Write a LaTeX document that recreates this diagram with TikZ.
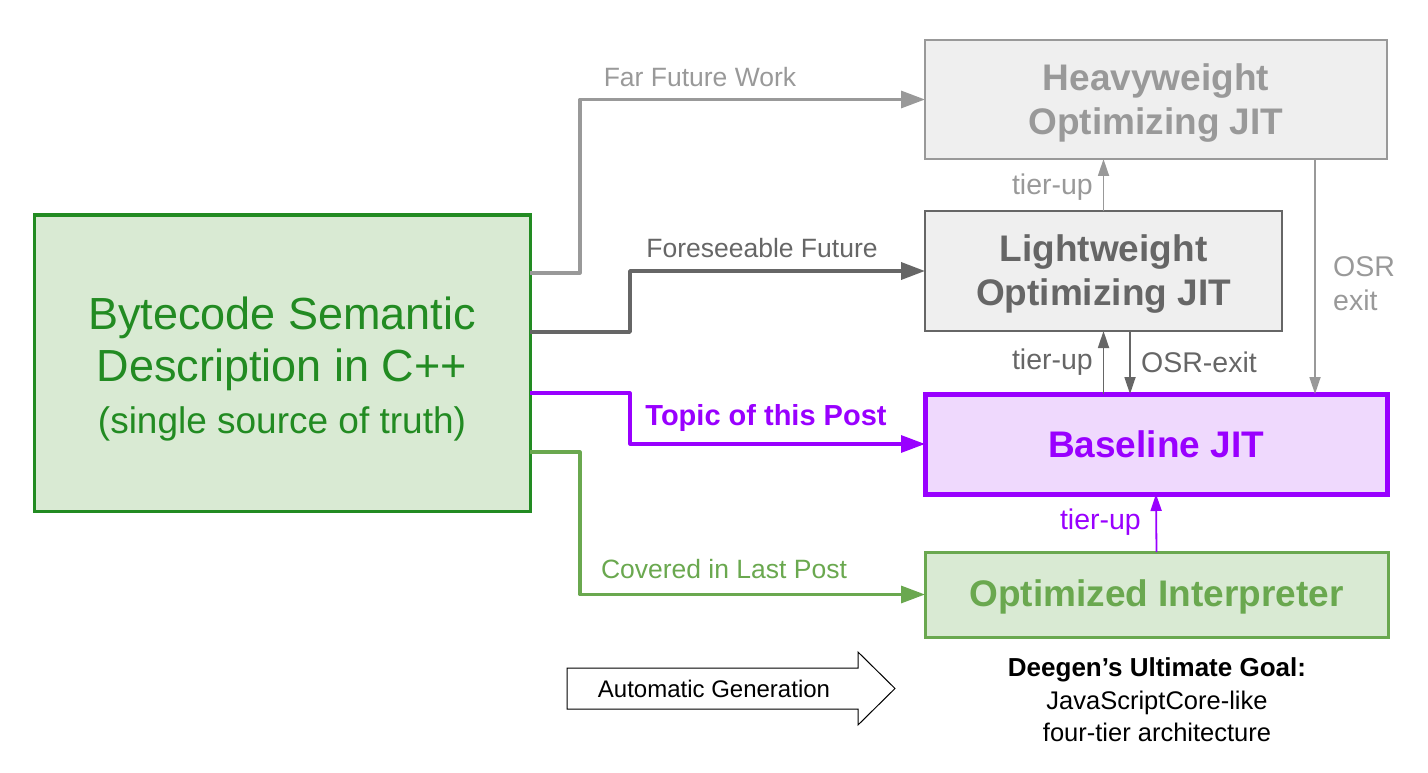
\documentclass[tikz,border=0pt]{standalone}
\usepackage{fontspec}
\setmainfont{Liberation Sans}
\usetikzlibrary{arrows.meta}
\definecolor{srcgreen}{RGB}{34,139,34}
\definecolor{srcfill}{RGB}{217,234,211}
\definecolor{interpgreen}{RGB}{106,168,79}
\definecolor{greyA}{RGB}{153,153,153}
\definecolor{greyB}{RGB}{102,102,102}
\definecolor{greyfill}{RGB}{239,239,239}
\definecolor{violet}{RGB}{153,0,255}
\definecolor{violetfill}{RGB}{239,217,253}
\begin{document}
\begin{tikzpicture}[x=1pt,y=-1pt,
  tier/.style={draw, rectangle, anchor=north west, inner sep=0pt, outer sep=0pt},
  tiertext/.style={inner sep=0pt, align=center, font=\fontsize{37}{44}\selectfont\bfseries},
  feed/.style={line width=3.2pt, line join=round, -{Triangle[length=24pt,width=17pt]}},
  hop/.style={line width=1.8pt, -{Triangle[length=17pt,width=11pt]}},
  edgelbl/.style={inner sep=0pt, font=\fontsize{26.5}{30}\selectfont},
  hoplbl/.style={inner sep=0pt, font=\fontsize{28.5}{34}\selectfont},
]
\useasboundingbox (0,0) rectangle (1428,773);

% tiers
\node[tier, fill=srcfill, draw=srcgreen, line width=3pt, minimum width=496pt, minimum height=296pt] (src) at (34,215) {};
\node[tiertext, text=srcgreen, font=\fontsize{45}{52}\selectfont] (srctext) at ([yshift=-6pt]src.center)
  {Bytecode Semantic\\Description in C++\\\fontsize{37}{48}\selectfont (single source of truth)};

\node[tier, fill=greyfill, draw=greyA, line width=2pt, minimum width=462pt, minimum height=119pt] (hvy) at (925,40) {};
\node[tiertext, text=greyA] (hvytext) at ([yshift=-4pt]hvy.center) {Heavyweight\\Optimizing JIT};

\node[tier, fill=greyfill, draw=greyB, line width=2pt, minimum width=357pt, minimum height=120pt] (lw) at (925,211) {};
\node[tiertext, text=greyB] (lwtext) at ([yshift=-3pt]lw.center) {Lightweight\\Optimizing JIT};

\node[tier, fill=violetfill, draw=violet, line width=5pt, minimum width=462pt, minimum height=100pt] (bl) at (925,394) {};
\node[tiertext, text=violet] (bltext) at (bl.center) {Baseline JIT};

\node[tier, fill=srcfill, draw=interpgreen, line width=3pt, minimum width=463pt, minimum height=85pt] (oi) at (925,552) {};
\node[tiertext, text=interpgreen] (oitext) at ([yshift=-2pt]oi.center) {Optimized Interpreter};

% feeds from the semantic description
\coordinate (s1) at (src.north east |- 0,273);
\coordinate (s2) at (src.north east |- 0,332);
\coordinate (s3) at (src.north east |- 0,393);
\coordinate (s4) at (src.north east |- 0,452);
\draw[feed, draw=greyA] (s1) -- ++(50,0) |- (hvy.west);
\draw[feed, draw=greyB, line width=3.6pt] (s2) -- ++(100,0) |- (lw.west);
\draw[feed, draw=violet] (s3) -- ++(100,0) |- (bl.west);
\draw[feed, draw=interpgreen] (s4) -- ++(50,0) |- (oi.west);

\node[edgelbl, text=greyA] (lblfar) at (700,77) {Far Future Work};
\node[edgelbl, text=greyB] (lblfore) at (762,248) {Foreseeable Future};
\node[inner sep=0pt, font=\fontsize{29}{32}\selectfont\bfseries, text=violet] (lbltopic) at (766,418) {Topic of this Post};
\node[edgelbl, text=interpgreen] (lblcov) at (724,569) {Covered in Last Post};

% transitions between tiers
\draw[hop, draw=greyA] (lw.north) -- (lw.north |- hvy.south);
\draw[hop, draw=greyB] (bl.north -| lw.south) -- (lw.south);
\draw[hop, draw=greyB] (lw.south -| 1130,0) -- (bl.north -| 1130,0);
\draw[hop, draw=greyA] (hvy.south -| 1315,0) -- (bl.north -| 1315,0);
\draw[hop, draw=violet] (oi.north) -- (bl.south);

\node[hoplbl, text=greyA, anchor=east] (lbtu1) at (1093,187) {tier-up};
\node[hoplbl, text=greyB, anchor=east] (lbtu2) at (1093,362) {tier-up};
\node[hoplbl, text=greyB, anchor=west] (lbosr1) at (1141,362) {OSR-exit};
\node[hoplbl, text=greyA, anchor=west, align=left] (lbosr2) at (1333,284) {OSR\\exit};
\node[hoplbl, text=violet, anchor=east] (lbtu3) at (1141,522) {tier-up};

% legend arrow
\draw[line width=1pt, fill=white, line join=miter]
  (567,668) -- (858,668) -- (858,652) -- (895,688.5) -- (858,725) -- (858,709) -- (567,709) -- cycle;
\node[inner sep=0pt, font=\fontsize{24}{28}\selectfont] (autogen) at (714,689) {Automatic Generation};

% goal caption
\node[inner sep=0pt, align=center, font=\fontsize{25.5}{32.5}\selectfont] (goal) at (1157,700)
  {{\bfseries\fontsize{26}{32.5}\selectfont Deegen’s Ultimate Goal:}\\JavaScriptCore-like\\four-tier architecture};
\end{tikzpicture}
\end{document}
